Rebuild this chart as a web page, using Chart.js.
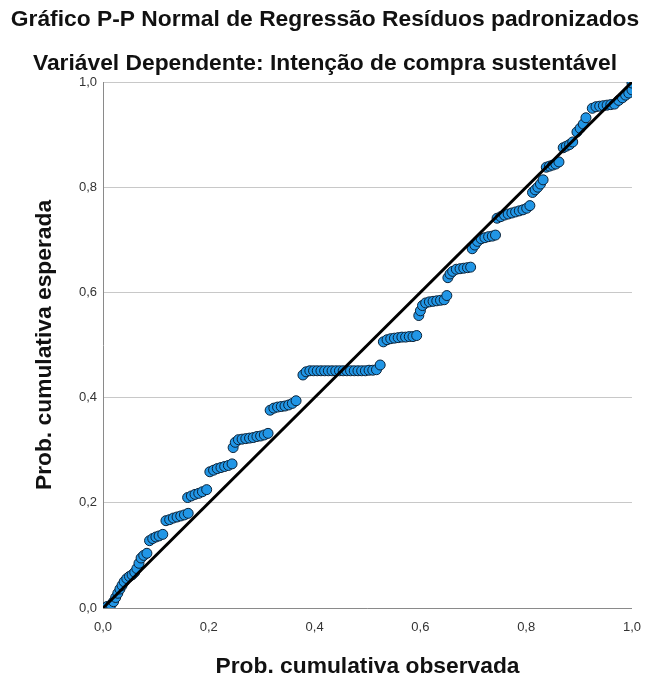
<!DOCTYPE html>
<html>
<head>
<meta charset="utf-8">
<script src="https://cdn.jsdelivr.net/npm/chart.js@4"></script>
<style>
  body { margin: 0; background: #fff; }
  #wrap { width: 645px; height: 682px; }
</style>
</head>
<body>
<div id="wrap"><canvas id="myChart"></canvas></div>
<script>
/* P-P plot data */
const titleLines = ['Gráfico P-P Normal de Regressão Resíduos padronizados',
                    'Variável Dependente: Intenção de compra sustentável'];
const xLabel = 'Prob. cumulativa observada';
const yLabel = 'Prob. cumulativa esperada';

const observed = [
  0.000,0.008,0.015,0.020,0.024,0.028,0.032,0.036,0.040,0.045,0.050,0.055,0.060,0.064,0.068,0.072,0.077,0.083,
  0.088,0.094,0.100,0.106,0.113,
  0.119,0.126,0.133,0.140,0.147,0.154,0.161,
  0.160,0.167,0.174,0.181,0.188,0.196,
  0.202,0.209,0.216,0.223,0.230,0.237,0.244,
  0.246,0.250,0.256,0.263,0.270,0.277,0.284,0.291,0.298,0.305,0.312,
  0.316,0.323,0.330,0.337,0.344,0.351,0.358,0.365,
  0.378,0.384,0.391,0.398,0.405,0.412,0.419,0.426,0.433,0.440,0.447,0.454,0.461,0.468,0.475,0.482,0.489,0.496,0.503,0.510,0.517,0.524,
  0.530,0.537,0.544,0.551,0.558,0.565,0.572,0.579,0.586,0.593,
  0.597,0.600,0.604,0.610,0.617,0.624,0.631,0.638,0.645,0.650,
  0.652,0.656,0.661,0.668,0.675,0.682,0.689,0.695,
  0.698,0.703,0.708,0.715,0.722,0.729,0.736,0.742,
  0.745,0.752,0.759,0.766,0.773,0.780,0.787,0.794,0.801,0.807,
  0.812,0.817,0.822,0.827,0.832,
  0.838,0.844,0.850,0.856,0.862,
  0.870,0.876,0.882,0.888,
  0.896,0.902,0.908,0.913,
  0.925,0.932,0.939,0.946,0.953,0.960,0.967,
  0.975,0.982,0.988,0.994,1.000,1.000
];
const expected = [
  0.000,0.003,0.006,0.012,0.020,0.028,0.036,0.043,0.050,0.056,0.060,0.063,0.068,0.075,0.085,0.095,0.100,0.104,
  0.128,0.132,0.135,0.137,0.140,
  0.166,0.168,0.171,0.173,0.175,0.177,0.180,
  0.210,0.213,0.216,0.218,0.221,0.225,
  0.259,0.262,0.265,0.267,0.269,0.271,0.274,
  0.305,0.315,0.320,0.321,0.322,0.323,0.324,0.326,0.327,0.329,0.332,
  0.376,0.380,0.382,0.383,0.384,0.386,0.389,0.394,
  0.443,0.449,0.451,0.451,0.451,0.451,0.451,0.451,0.451,0.451,0.451,0.451,0.451,0.451,0.451,0.451,0.451,0.451,0.452,0.452,0.453,0.462,
  0.506,0.510,0.512,0.513,0.514,0.515,0.515,0.516,0.516,0.518,
  0.556,0.565,0.575,0.580,0.582,0.583,0.584,0.585,0.586,0.594,
  0.628,0.635,0.640,0.644,0.645,0.646,0.647,0.648,
  0.683,0.690,0.697,0.702,0.704,0.706,0.707,0.709,
  0.741,0.744,0.747,0.749,0.751,0.753,0.755,0.757,0.760,0.765,
  0.790,0.795,0.800,0.806,0.814,
  0.838,0.840,0.842,0.844,0.848,
  0.875,0.878,0.881,0.886,
  0.905,0.912,0.920,0.932,
  0.950,0.953,0.954,0.955,0.956,0.957,0.958,
  0.965,0.970,0.975,0.979,0.985,0.998
];
const refLine = [0, 1];

const points = observed.map((x, i) => ({x: x, y: expected[i]}));
const diag = refLine.map(v => ({x: v, y: v}));

const fmt = v => v.toFixed(1).replace('.', ',');
const FONT = 'Liberation Sans, Arial, sans-serif';

const ctx = document.getElementById('myChart');
const myChart = new Chart(ctx, {
  type: 'scatter',
  data: {
    datasets: [{
      data: points,
      backgroundColor: '#2196e6',
      borderColor: '#0b2238',
      borderWidth: 1,
      pointRadius: 5,
      order: 2
    }, {
      data: diag,
      showLine: true,
      borderColor: '#000',
      borderWidth: 3,
      pointRadius: 0,
      order: 1
    }]
  },
  options: {
    animation: false,
    events: [],
    responsive: true,
    maintainAspectRatio: false,
    layout: { padding: { left: 5, right: 0, top: 0, bottom: 0 } },
    plugins: {
      legend: { display: false },
      tooltip: { enabled: false },
      title: {
        display: true,
        text: titleLines,
        color: '#111',
        font: { family: FONT, size: 22.8, weight: 'bold', lineHeight: 44 / 22.8 },
        padding: { top: -2, bottom: -4 }
      }
    },
    scales: {
      x: {
        type: 'linear',
        min: 0, max: 1,
        afterFit: s => { s.height = 74; },
        // tick marks hidden, their length only spaces the labels
        grid: { display: false, drawTicks: true, tickLength: 8 },
        border: { display: true, color: '#8a8a8a', width: 1 },
        ticks: {
          stepSize: 0.2,
          padding: 4,
          color: '#333',
          font: { family: FONT, size: 13 },
          callback: v => fmt(v)
        },
        title: {
          display: true,
          text: xLabel,
          color: '#111',
          font: { family: FONT, size: 22.8, weight: 'bold' },
          padding: { top: 0, bottom: 2 }
        }
      },
      y: {
        type: 'linear',
        min: 0, max: 1,
        afterFit: s => { s.width = 98; },
        grid: { color: '#c8c8c8', drawTicks: false },
        border: { display: true, color: '#8a8a8a', width: 1 },
        ticks: {
          stepSize: 0.2,
          padding: 6,
          color: '#333',
          font: { family: FONT, size: 13 },
          callback: v => fmt(v)
        },
        title: {
          display: true,
          text: yLabel,
          color: '#111',
          font: { family: FONT, size: 22.8, weight: 'bold' },
          padding: { top: 26, bottom: 0 }
        }
      }
    }
  }
});
</script>
</body>
</html>
